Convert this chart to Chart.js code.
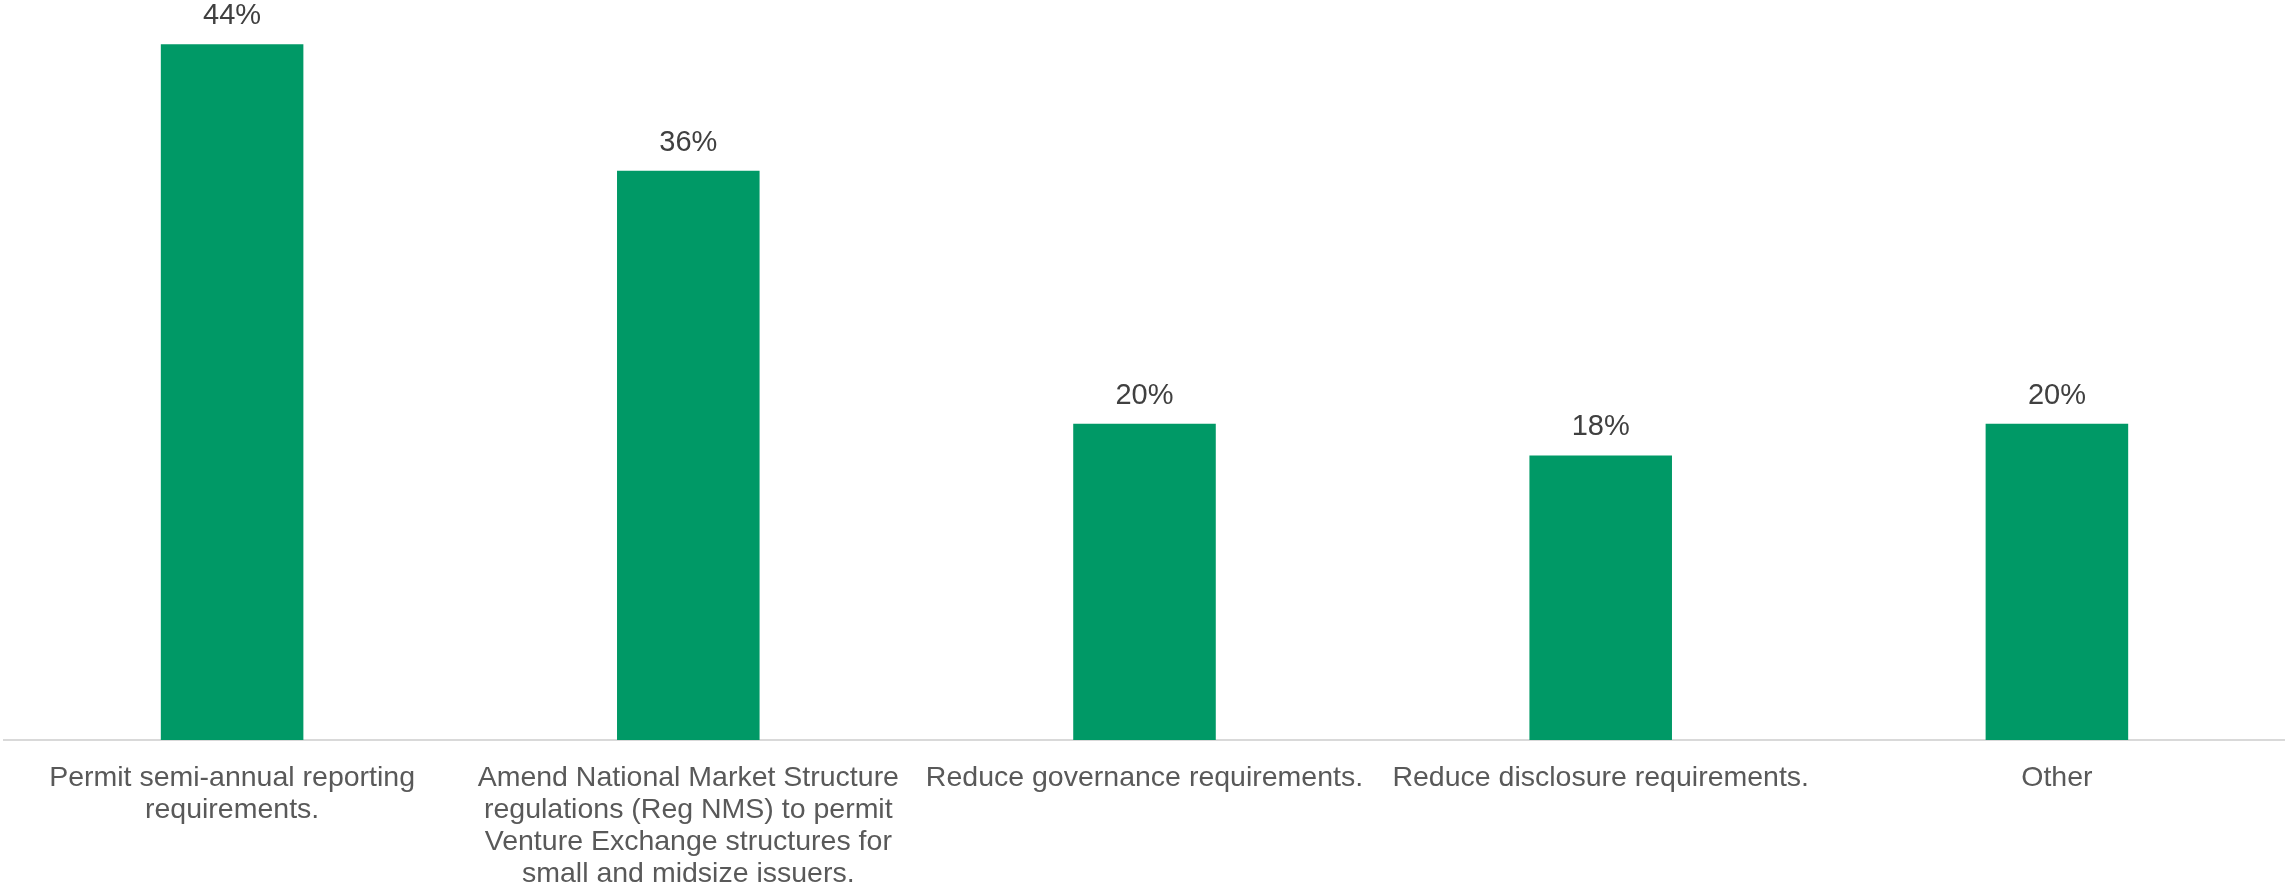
<!DOCTYPE html>
<html>
<head>
<meta charset="utf-8">
<script src="https://cdn.jsdelivr.net/npm/chart.js@4/dist/chart.umd.min.js"></script>
<style>
  html, body { margin: 0; padding: 0; background: #ffffff; }
  #wrap { width: 2285px; height: 894px; position: relative; }
</style>
</head>
<body>
<div id="wrap"><canvas id="reformChart" width="2285" height="894"></canvas></div>
<script>
const categories = [
  ['Permit semi-annual reporting', 'requirements.'],
  ['Amend National Market Structure', 'regulations (Reg NMS) to permit', 'Venture Exchange structures for', 'small and midsize issuers.'],
  ['Reduce governance requirements.'],
  ['Reduce disclosure requirements.'],
  ['Other']
];
const shares = [44, 36, 20, 18, 20];

const barColor = '#009966';
const valueColor = '#404040';
const labelColor = '#595959';
const fontFamily = '"Liberation Sans", Arial, sans-serif';

// Writes "NN%" above every bar.
const valueLabels = {
  id: 'valueLabels',
  afterDatasetsDraw(chart) {
    const ctx = chart.ctx;
    const meta = chart.getDatasetMeta(0);
    ctx.save();
    ctx.font = `29px ${fontFamily}`;
    ctx.fillStyle = valueColor;
    ctx.textAlign = 'center';
    ctx.textBaseline = 'alphabetic';
    meta.data.forEach((bar, i) => {
      ctx.fillText(`${shares[i]}%`, bar.x, bar.y - 20);
    });
    ctx.restore();
  }
};

const ctx = document.getElementById('reformChart').getContext('2d');
new Chart(ctx, {
  type: 'bar',
  data: {
    labels: categories,
    datasets: [{
      data: shares,
      backgroundColor: barColor,
      borderWidth: 0,
      categoryPercentage: 1,
      barPercentage: 0.3125
    }]
  },
  options: {
    responsive: false,
    animation: false,
    layout: { padding: { left: 4, right: 0, top: 0, bottom: 0 } },
    plugins: {
      legend: { display: false },
      tooltip: { enabled: false }
    },
    scales: {
      x: {
        grid: { display: false, drawTicks: false },
        border: { color: '#d9d9d9', width: 2 },
        ticks: {
          color: labelColor,
          padding: 22,
          maxRotation: 0,
          autoSkip: false,
          font: { family: fontFamily, size: 28.5, lineHeight: 1.12 }
        },
        afterFit(scale) {
          scale.height = 154;
        }
      },
      y: {
        display: false,
        min: 0,
        max: 46.8
      }
    }
  },
  plugins: [valueLabels]
});
</script>
</body>
</html>
